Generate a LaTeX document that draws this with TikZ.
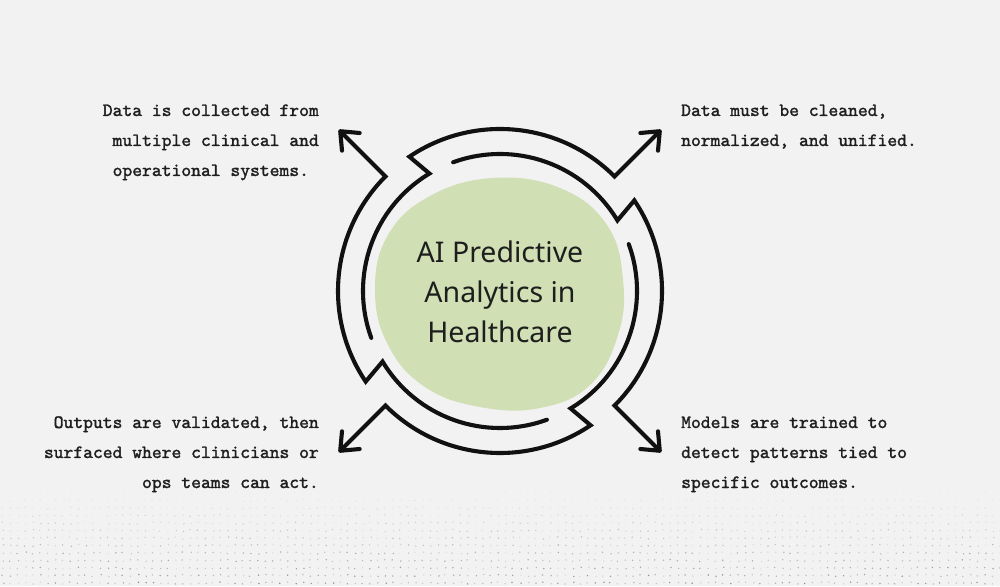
\documentclass[tikz,border=0pt]{standalone}
\usepackage{fontspec}
\usetikzlibrary{arrows.meta,calc}
\newfontfamily\centerfont{Noto Sans}
\newfontfamily\typefont{lmmono10-regular.otf}[FakeBold=1.6]
\definecolor{bgcol}{RGB}{242,242,242}
\definecolor{blobcol}{RGB}{208,223,180}
\definecolor{inkcol}{RGB}{17,17,17}
\definecolor{textcol}{RGB}{30,30,30}
\begin{document}
\begin{tikzpicture}[x=1pt,y=1pt,
  ring/.style={line width=4.1pt, draw=inkcol, line cap=round, line join=miter},
  barb/.style={{Straight Barb[length=15pt,width=25pt,round]}-},
  note/.style={font=\typefont\fontsize{18.7}{30}\selectfont, text=textcol, inner sep=0pt},
  title/.style={font=\centerfont\fontsize{28.5}{40}\selectfont, text=textcol, align=center, inner sep=0pt}]
\useasboundingbox (0,0) rectangle (1000,586);
\fill[bgcol] (0,0) rectangle (1000,586);
% dotted texture
\pgfmathsetseed{11}
\foreach \i in {0,...,133}{
  \foreach \j in {0,...,12}{
    \pgfmathsetmacro\op{max(0,(1-\j/13))*(0.15+0.6*rnd)}
    \pgfmathsetmacro\xx{\i*7.5+2+2*rnd}
    \pgfmathsetmacro\yy{\j*7.5+2+2*rnd}
    \fill[black!60, opacity=\op] (\xx,\yy) circle (0.8);
  }
}
\coordinate (C) at (500,295);
% blob
\fill[blobcol] plot[smooth cycle, tension=0.7] coordinates {
  (493,408) (560,398) (607,361) (623,306) (618,251) (590,201)
  (540,178) (480,179) (425,199) (388,241) (375,296) (388,351) (430,390)};
\node[title] (t) at (500,294) {AI Predictive\\Analytics in\\Healthcare};
% ring paths with arrows
\foreach \t/\n in {45/a,135/b,225/c,315/d}{
  \pgfmathsetmacro\ta{\t+79}
  \pgfmathsetmacro\tb{\t+76}
  \pgfmathsetmacro\tc{\t+155}
  \coordinate (tip\n) at ($(C)+(\t:228)$);
  \coordinate (base\n) at ($(C)+(\t:162)$);
  \coordinate (step\n) at ($(C)+(\tb:137)$);
  \draw[ring, barb] (tip\n) -- (base\n) arc[start angle=\t, end angle=\ta, radius=162]
     -- (step\n) arc[start angle=\tb, end angle=\tc, radius=137];
}
% notes (base anchor = baseline of the last line)
\node[note, align=right, anchor=base east] (n1) at (319,410)
  {Data is collected from\\multiple clinical and\\operational systems.\phantom{.}};
\node[note, align=left, anchor=base west] (n2) at (681,440)
  {Data must be cleaned,\\normalized, and unified.};
\node[note, align=right, anchor=base east] (n3) at (319,98)
  {Outputs are validated, then\\surfaced where clinicians or\\ops teams can act.};
\node[note, align=left, anchor=base west] (n4) at (681,98)
  {Models are trained to\\detect patterns tied to\\specific outcomes.};
\end{tikzpicture}
\end{document}
